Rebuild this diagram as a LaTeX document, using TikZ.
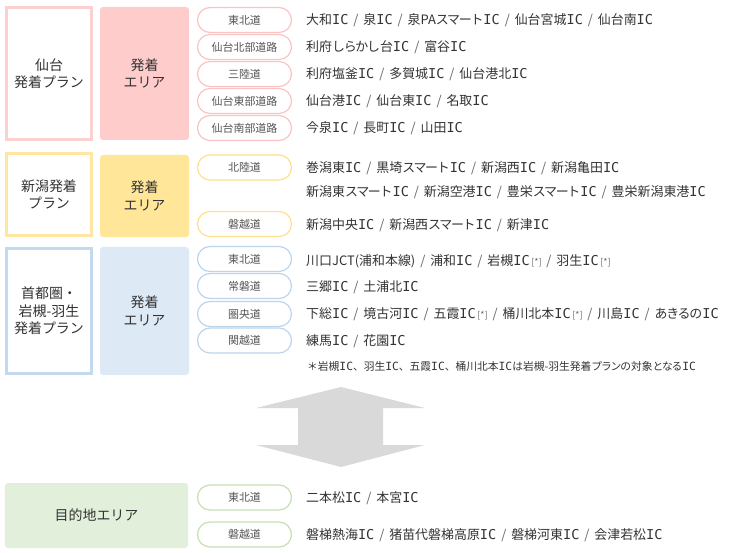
\documentclass[tikz,border=0pt]{standalone}
\usepackage{fontspec}
\setmainfont{Noto Sans CJK JP}
\newfontfamily\latinfont{DejaVu Sans Mono}[Scale=1.05]
\definecolor{txt}{HTML}{333333}
\definecolor{pilltxt}{HTML}{555555}
\definecolor{septxt}{HTML}{666666}
\definecolor{pinkline}{HTML}{FAD0D0}
\definecolor{pinkfill}{HTML}{FFCCCC}
\definecolor{pinkpill}{HTML}{F8C4C4}
\definecolor{yelline}{HTML}{FFE7A3}
\definecolor{yelfill}{HTML}{FFE699}
\definecolor{yelpill}{HTML}{FFE08C}
\definecolor{blueline}{HTML}{C3D9EE}
\definecolor{bluefill}{HTML}{DDE9F5}
\definecolor{bluepill}{HTML}{BDD5EC}
\definecolor{grnfill}{HTML}{E2EFDA}
\definecolor{grnpill}{HTML}{C6E0B4}
\definecolor{arrowgray}{HTML}{D9D9D9}
\tikzset{
  planbox/.style={draw, line width=3bp, fill=white, inner sep=0pt, outer sep=0pt, minimum width=85bp, align=center, text=txt, font=\fontsize{14}{17.5}\selectfont},
  areabox/.style={rounded corners=3bp, inner sep=0pt, outer sep=0pt, minimum width=89bp, align=center, text=txt, font=\fontsize{14}{17.5}\selectfont},
  pill/.style={draw, line width=1.2bp, rounded corners=12.5bp, fill=white, inner sep=0pt, outer sep=0pt, minimum width=94bp, minimum height=25bp, text=pilltxt, font=\fontsize{11}{12}\selectfont},
  listtxt/.style={anchor=west, inner sep=0pt, text=txt, font=\fontsize{13}{16}\selectfont},
  notetxt/.style={anchor=west, inner sep=0pt, text=txt, font=\fontsize{10.8}{13}\selectfont}
}
\newcommand{\mk}{\hspace{0.12em}{\fontsize{9}{9}\selectfont\color{septxt}[*]}}
\newcommand{\IC}{{\latinfont IC}}
\newcommand{\kn}[1]{{\addfontfeature{LetterSpace=-10}#1}}
\newcommand{\sep}{\hspace{0.38em}{\color{septxt}/}\hspace{0.38em}}
\begin{document}
\begin{tikzpicture}[x=1bp,y=-1bp]
\useasboundingbox (0,0) rectangle (730,553);
% ---- Sendai
\node[planbox, draw=pinkline, minimum height=132bp] (sp) at (49,73.5) {仙台\\発着プラン};
\node[areabox, fill=pinkfill, minimum height=133bp] (sa) at (144.5,73.5) {発着\\エリア};
\node[pill, draw=pinkpill] (s1) at (244.5,20) {東北道};
\node[pill, draw=pinkpill] (s2) at (244.5,47) {仙台北部道路};
\node[pill, draw=pinkpill] (s3) at (244.5,74) {三陸道};
\node[pill, draw=pinkpill] (s4) at (244.5,101) {仙台東部道路};
\node[pill, draw=pinkpill] (s5) at (244.5,128) {仙台南部道路};
\node[listtxt] (st1) at (306,20) {大和\IC\sep 泉\IC\sep 泉PA\kn{スマート}\IC\sep 仙台宮城\IC\sep 仙台南\IC};
\node[listtxt] (st2) at (306,47) {利府\kn{しらかし}台\IC\sep 富谷\IC};
\node[listtxt] (st3) at (306,74) {利府塩釜\IC\sep 多賀城\IC\sep 仙台港北\IC};
\node[listtxt] (st4) at (306,101) {仙台港\IC\sep 仙台東\IC\sep 名取\IC};
\node[listtxt] (st5) at (306,128) {今泉\IC\sep 長町\IC\sep 山田\IC};
% ---- Niigata
\node[planbox, draw=yelline, minimum height=82bp] (np) at (49,194.5) {新潟発着\\プラン};
\node[areabox, fill=yelfill, minimum height=82bp] (na) at (144.5,196) {発着\\エリア};
\node[pill, draw=yelpill] (n1) at (244.5,167.5) {北陸道};
\node[pill, draw=yelpill] (n2) at (244.5,224) {磐越道};
\node[listtxt] (nt1) at (306,168) {巻潟東\IC\sep 黒埼\kn{スマート}\IC\sep 新潟西\IC\sep 新潟亀田\IC};
\node[listtxt] (nt2) at (306,192) {新潟東\kn{スマート}\IC\sep 新潟空港\IC\sep 豊栄\kn{スマート}\IC\sep 豊栄新潟東港\IC};
\node[listtxt] (nt3) at (306,225) {新潟中央\IC\sep 新潟西\kn{スマート}\IC\sep 新津\IC};
% ---- Shuto
\node[planbox, draw=blueline, minimum height=125bp] (kp) at (49,311) {首都圏・\\岩槻-羽生\\発着プラン};
\node[areabox, fill=bluefill, minimum height=128bp] (ka) at (144.5,311) {発着\\エリア};
\node[pill, draw=bluepill] (k1) at (244.5,259) {東北道};
\node[pill, draw=bluepill] (k2) at (244.5,286) {常磐道};
\node[pill, draw=bluepill] (k3) at (244.5,314) {圏央道};
\node[pill, draw=bluepill] (k4) at (244.5,340.5) {関越道};
\node[listtxt] (kt1) at (306,261) {川口JCT(浦和本線)\sep 浦和\IC\sep 岩槻\IC\mk\sep 羽生\IC\mk};
\node[listtxt] (kt2) at (306,287) {三郷\IC\sep 土浦北\IC};
\node[listtxt] (kt3) at (306,314) {下総\IC\sep 境古河\IC\sep 五霞\IC\mk\sep 桶川北本\IC\mk\sep 川島\IC\sep \kn{あきるの}\IC};
\node[listtxt] (kt4) at (306,341) {練馬\IC\sep 花園\IC};
\node[notetxt] (note) at (307,366) {＊岩槻\IC、羽生\IC、五霞\IC、桶川北本\IC\kn{は}岩槻-羽生発着\kn{プランの}対象\kn{となる}\IC};
% ---- Arrow
\fill[arrowgray] (341,387) -- (425,408) -- (383,408) -- (383,445) -- (425,445) -- (341,467)
  -- (256,445) -- (298,445) -- (298,408) -- (256,408) -- cycle;
% ---- Destination
\node[areabox, fill=grnfill, minimum width=183bp, minimum height=65bp] (da) at (96.5,515.5) {目的地エリア};
\node[pill, draw=grnpill] (d1) at (244.5,497.5) {東北道};
\node[pill, draw=grnpill] (d2) at (244.5,534.5) {磐越道};
\node[listtxt] (dt1) at (306,498) {二本松\IC\sep 本宮\IC};
\node[listtxt] (dt2) at (306,535) {磐梯熱海\IC\sep 猪苗代磐梯高原\IC\sep 磐梯河東\IC\sep 会津若松\IC};
\end{tikzpicture}
\end{document}
